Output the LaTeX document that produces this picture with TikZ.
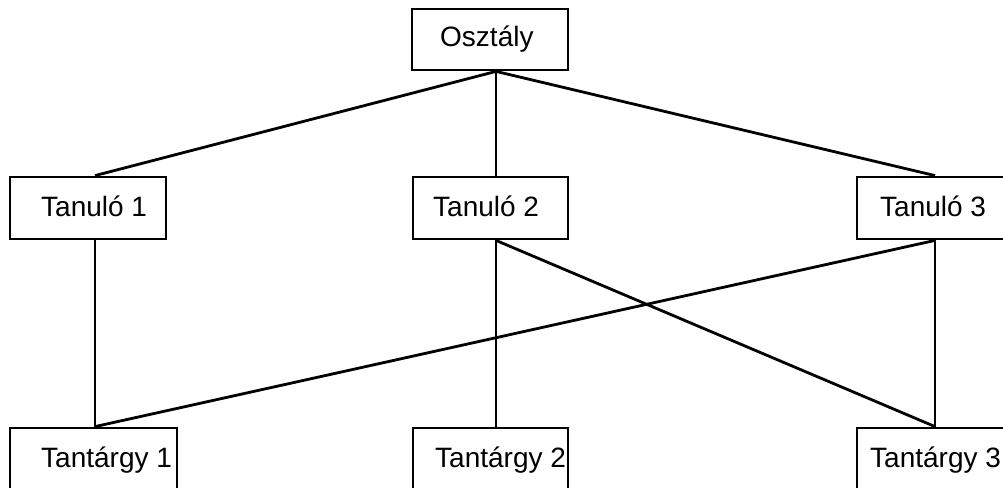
\documentclass[tikz,border=0pt]{standalone}
\usepackage{fontspec}
\setmainfont{Liberation Sans}
\begin{document}
\begin{tikzpicture}[x=1pt,y=-1pt,
  box/.style={draw=black, line width=2.8pt, rectangle, inner sep=0pt, minimum width=156pt, minimum height=62pt},
  lbl/.style={anchor=base west, inner sep=0pt, font=\fontsize{28}{33}\selectfont},
  conn/.style={draw=black, line width=2.8pt}]
\useasboundingbox (0,0) rectangle (1003,487);
\fill[white] (0,0) rectangle (1003,487);
% boxes
\node[box, minimum height=61pt] (os) at (490,39.5) {};
\node[box] (t1) at (88,208) {};
\node[box, minimum width=155pt] (t2) at (490.5,208) {};
\node[box] (t3) at (935,208) {};
\node[box, minimum width=167pt] (s1) at (93.5,459) {};
\node[box, minimum width=155pt] (s2) at (490.5,459) {};
\node[box] (s3) at (935,459) {};
% labels
\node[lbl] (los) at (440,47) {Osztály};
\node[lbl] (lt1) at (41,216) {Tanuló 1};
\node[lbl] (lt2) at (433,216) {Tanuló 2};
\node[lbl] (lt3) at (880,216) {Tanuló 3};
\node[lbl] (ls1) at (41,467) {Tantárgy 1};
\node[lbl] (ls2) at (435,467) {Tantárgy 2};
\node[lbl] (ls3) at (870,467) {Tantárgy 3};
% connectors
\draw[conn] ([xshift=6pt]os.south) -- ([xshift=7pt]t1.north);
\draw[conn] ([xshift=6pt]os.south) -- ([xshift=5.5pt]t2.north);
\draw[conn] ([xshift=6pt]os.south) -- (t3.north);
\draw[conn] ([xshift=7pt]t1.south) -- ([xshift=1.5pt]s1.north);
\draw[conn] ([xshift=5.5pt]t2.south) -- ([xshift=5.5pt]s2.north);
\draw[conn] ([xshift=5.5pt]t2.south) -- (s3.north);
\draw[conn] (t3.south) -- ([xshift=1.5pt]s1.north);
\draw[conn] (t3.south) -- (s3.north);
\end{tikzpicture}
\end{document}
